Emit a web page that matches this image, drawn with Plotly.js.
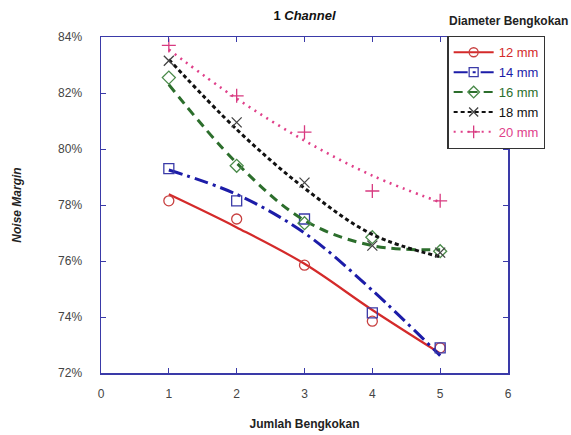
<!DOCTYPE html>
<html>
<head>
<meta charset="utf-8">
<script src="https://cdn.plot.ly/plotly-3.0.1.min.js"></script>
<style>html,body{margin:0;padding:0;background:#fff;}</style>
</head>
<body>
<div id="chart" style="width:571px;height:435px;"></div>
<script>
// Jumlah Bengkokan (x)
const bends = [1, 2, 3, 4, 5];
// Measured noise margin (%) per bending diameter
const nm12 = [78.15, 77.5, 75.85, 73.85, 72.9];
const nm14 = [79.3, 78.15, 77.5, 74.15, 72.9];
const nm16 = [82.55, 79.4, 77.35, 76.85, 76.35];
const nm18 = [83.15, 80.95, 78.8, 76.55, 76.3];
const nm20 = [83.7, 81.9, 80.6, 78.5, 78.15];
// Fitted trend curves
const fitX = [1, 2, 3, 4, 5];
const fit12 = [78.38, 77.2, 75.9, 74.25, 72.7];
const fit14 = [79.25, 78.38, 77.0, 74.95, 72.62];
const fit16 = [82.3, 79.5, 77.45, 76.55, 76.4];
const fit18 = [83.2, 80.7, 78.6, 76.95, 76.15];
const fit20 = [83.55, 81.8, 80.3, 79.05, 78.1];
const names = ["12 mm", "14 mm", "16 mm", "18 mm", "20 mm"];
const yTicks = [72, 74, 76, 78, 80, 82, 84];
const yTickText = ["72%", "74%", "76%", "78%", "80%", "82%", "84%"];

const series = [
  {name: names[0], pts: nm12, fit: fit12, color: "#d42a2a", mcolor: "#c84040", symbol: "circle-open", dash: "solid", lw: 2.2},
  {name: names[1], pts: nm14, fit: fit14, color: "#1c1ca8", mcolor: "#3a3aa8", symbol: "square-open", dash: "14px,5px,3px,5px", lw: 3},
  {name: names[2], pts: nm16, fit: fit16, color: "#2c6e2c", mcolor: "#4a8a4a", symbol: "diamond-open", dash: "9px,6px", lw: 3},
  {name: names[3], pts: nm18, fit: fit18, color: "#111111", mcolor: "#444444", symbol: "x-thin-open", dash: "4px,3px", lw: 3},
  {name: names[4], pts: nm20, fit: fit20, color: "#e0408a", mcolor: "#d83a80", symbol: "cross-thin-open", dash: "2px,5px", lw: 2.6}
];

const traces = [];
series.forEach(s => {
  traces.push({x: fitX, y: s.fit, mode: "lines", line: {color: s.color, width: s.lw, dash: s.dash, shape: "spline"}, showlegend: false, hoverinfo: "skip"});
  traces.push({x: bends, y: s.pts, mode: "markers", marker: {symbol: s.symbol, size: 10, color: s.mcolor, line: {color: s.mcolor, width: 1.3}}, showlegend: false});
});
series.forEach(s => {
  traces.push({x: [null], y: [null], mode: "lines+markers", name: '<span style="color:' + s.color + '">' + s.name + '</span>',
    line: {color: s.color, width: 2, dash: s.dash}, marker: {symbol: s.symbol, size: 9, color: s.mcolor, line: {color: s.mcolor, width: 1.3}}, showlegend: true});
});

const axisCol = "#3a3aa8";
const layout = {
  width: 571, height: 435,
  margin: {l: 101, r: 63, t: 37, b: 62},
  paper_bgcolor: "#ffffff", plot_bgcolor: "#ffffff",
  font: {family: "Liberation Sans, Arial, sans-serif", size: 12, color: "#444"},
  title: {text: "<b>1 <i>Channel</i></b>", x: 0.5, xref: "paper", font: {size: 13, color: "#111"}, y: 0.975, yref: "container"},
  xaxis: {range: [0, 6], tickvals: [0, 1, 2, 3, 4, 5, 6], ticks: "inside", ticklen: 5, tickcolor: axisCol, tickwidth: 1,
    showline: true, linecolor: axisCol, linewidth: 1.5, mirror: "allticks", showgrid: false, zeroline: false,
    tickfont: {size: 12, color: "#444"}, ticklabelstandoff: 9,
    title: {text: "<b>Jumlah Bengkokan</b>", font: {size: 12, color: "#222"}, standoff: 19}},
  yaxis: {range: [72, 84], tickvals: yTicks, ticktext: yTickText, ticks: "inside", ticklen: 5, tickcolor: axisCol, tickwidth: 1,
    showline: true, linecolor: axisCol, linewidth: 1.5, mirror: "allticks", showgrid: false, zeroline: false,
    tickfont: {size: 12, color: "#444"}, ticklabelstandoff: 15,
    title: {text: "<b><i>Noise Margin</i></b>", font: {size: 12, color: "#222"}, standoff: 34}},
  legend: {x: 0.851, xanchor: "left", y: 1.003, yanchor: "top", bgcolor: "#ffffff", bordercolor: "#333", borderwidth: 1.3,
    font: {size: 13}, itemwidth: 40, tracegroupgap: 0},
  annotations: [{text: "<b>Diameter Bengkokan</b>", xref: "paper", yref: "paper", x: 1.153, xanchor: "right", y: 1.022, yanchor: "bottom",
    showarrow: false, font: {size: 12, color: "#222"}}],
  showlegend: true
};
Plotly.newPlot("chart", traces, layout, {displayModeBar: false, staticPlot: true});
</script>
</body>
</html>
